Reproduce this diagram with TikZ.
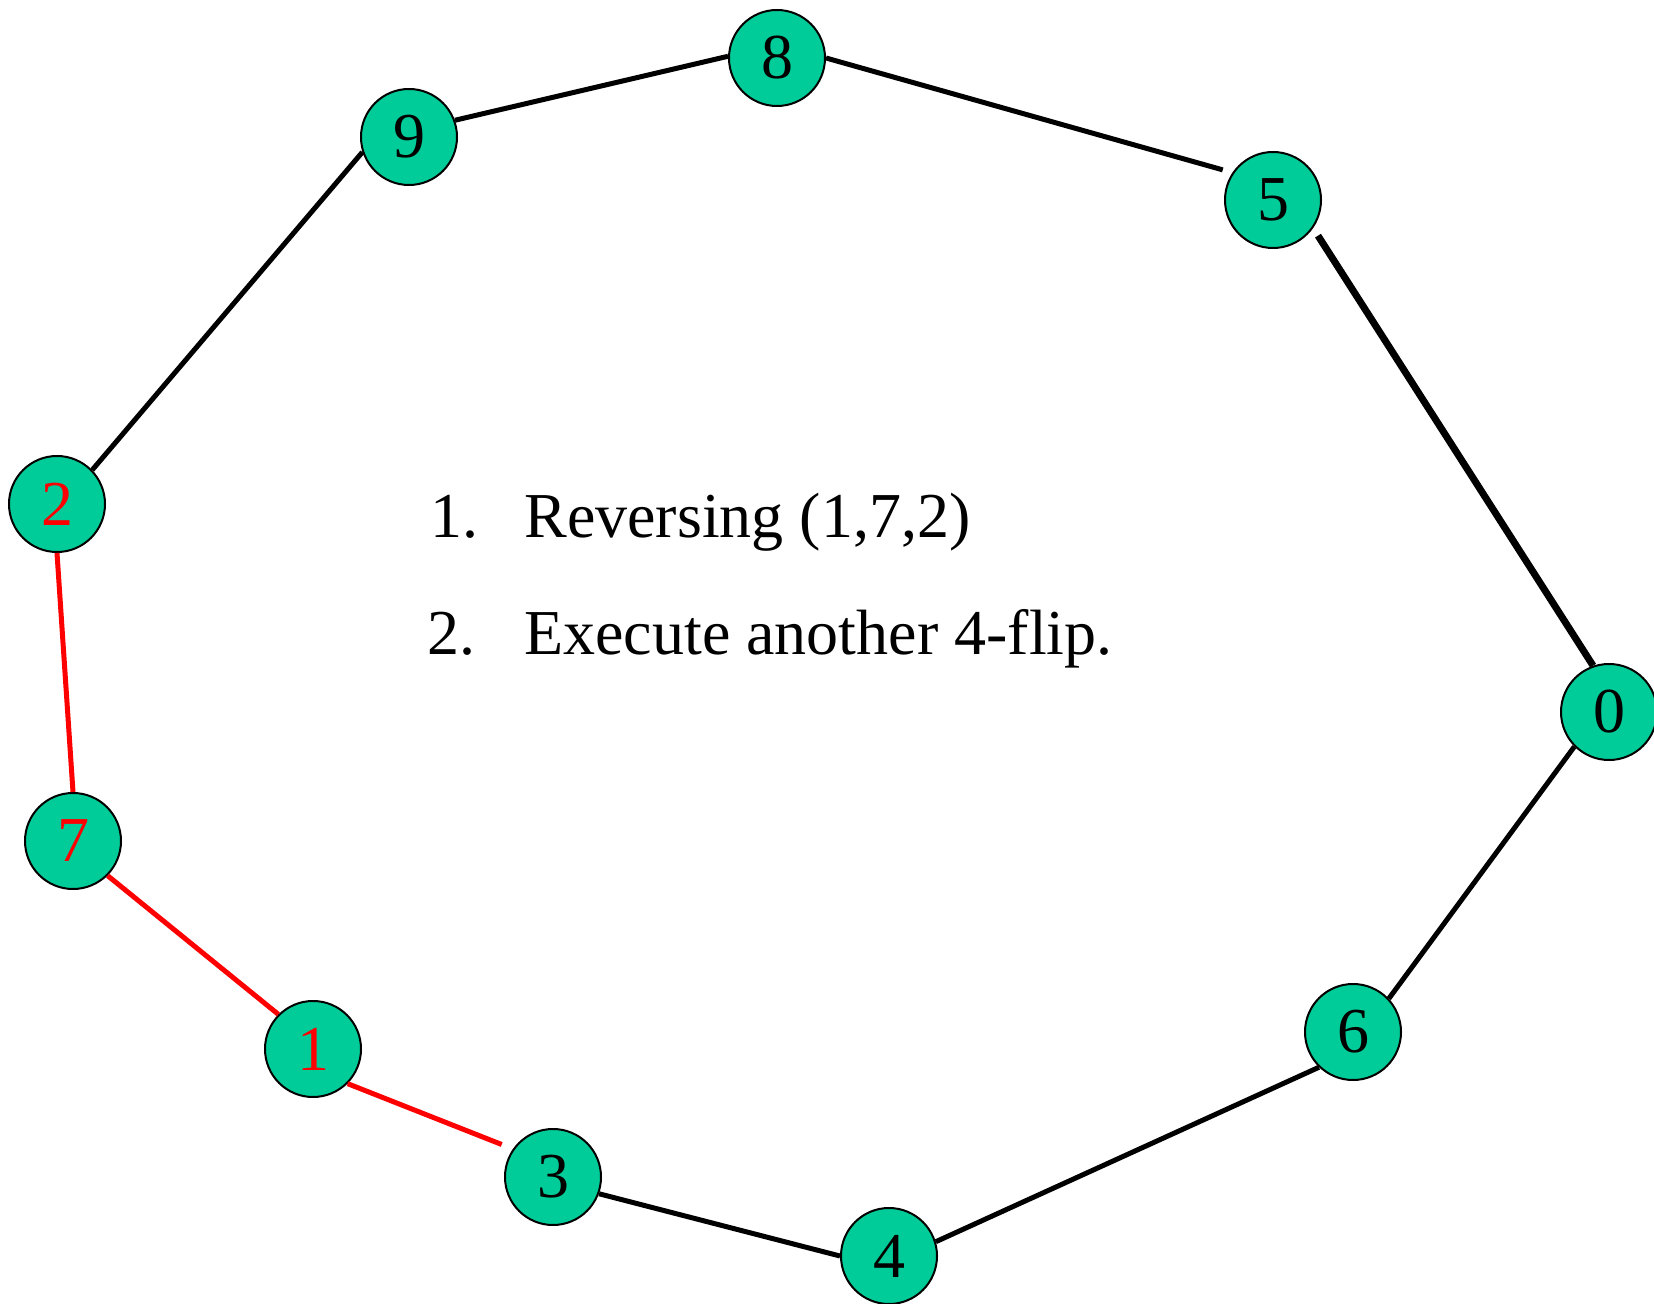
\documentclass[tikz,border=0pt]{standalone}
\usepackage{fontspec}
\setmainfont{Liberation Serif}
\usepackage{tikz}
\usetikzlibrary{positioning}
\definecolor{tourgreen}{RGB}{0,204,153}

\begin{document}
\begin{tikzpicture}[
  x=0.5pt, y=-0.5pt,
  every node/.style={font=\fontsize{32}{38}\selectfont},
  city/.style={circle, draw=black, line width=1pt, fill=tourgreen, minimum size=48pt, inner sep=0pt},
  tour/.style={line width=2.5pt, black},
  flipped/.style={line width=2.5pt, red}
]
\useasboundingbox (0,0) rectangle (1654,1304);

% City positions
\coordinate (c8) at (777,58);
\coordinate (c9) at (409,137);
\coordinate (c5) at (1273,200);
\coordinate (c2) at (57,504);
\coordinate (c0) at (1609,712);
\coordinate (c7) at (73,841);
\coordinate (c1) at (313,1049);
\coordinate (c6) at (1353,1032);
\coordinate (c3) at (553,1177);
\coordinate (c4) at (889,1256);

% Cities
\node[city] (n8) at (c8) {8};
\node[city] (n9) at (c9) {9};
\node[city] (n5) at (c5) {5};
\node[city, text=red] (n2) at (c2) {2};
\node[city] (n0) at (c0) {0};
\node[city, text=red] (n7) at (c7) {7};
\node[city, text=red] (n1) at (c1) {1};
\node[city] (n6) at (c6) {6};
\node[city] (n3) at (c3) {3};
\node[city] (n4) at (c4) {4};

% Tour
\draw[tour] (n9.20) -- (n8.178);
\draw[tour, shorten >=5pt] (n8.east) -- (n5.146);
\draw[tour, line width=3.5pt, shorten <=4.5pt] (n5.-35) -- (n0.109);
\draw[tour] (n0.225) -- (n6.43);
\draw[tour] (n6.226) -- (n4.17);
\draw[tour] (n4.west) -- (n3.-20);
\draw[tour] (n2.44) -- (n9.198);
\draw[flipped, shorten <=6pt] (n3.145) -- (n1.-45);
\draw[flipped] (n1.135) -- (n7.-45);
\draw[flipped] (n7.north) -- (n2.south);

% Steps
\node[anchor=base west, inner sep=0pt] (num1) at (430,538) {1.};
\node[anchor=base west, inner sep=0pt] (txt1) at (524,538) {Reversing (1,7,2)};
\node[anchor=base west, inner sep=0pt] (num2) at (427,654) {2.};
\node[anchor=base west, inner sep=0pt] (txt2) at (524,654) {Execute another 4-flip.};

\end{tikzpicture}
\end{document}
